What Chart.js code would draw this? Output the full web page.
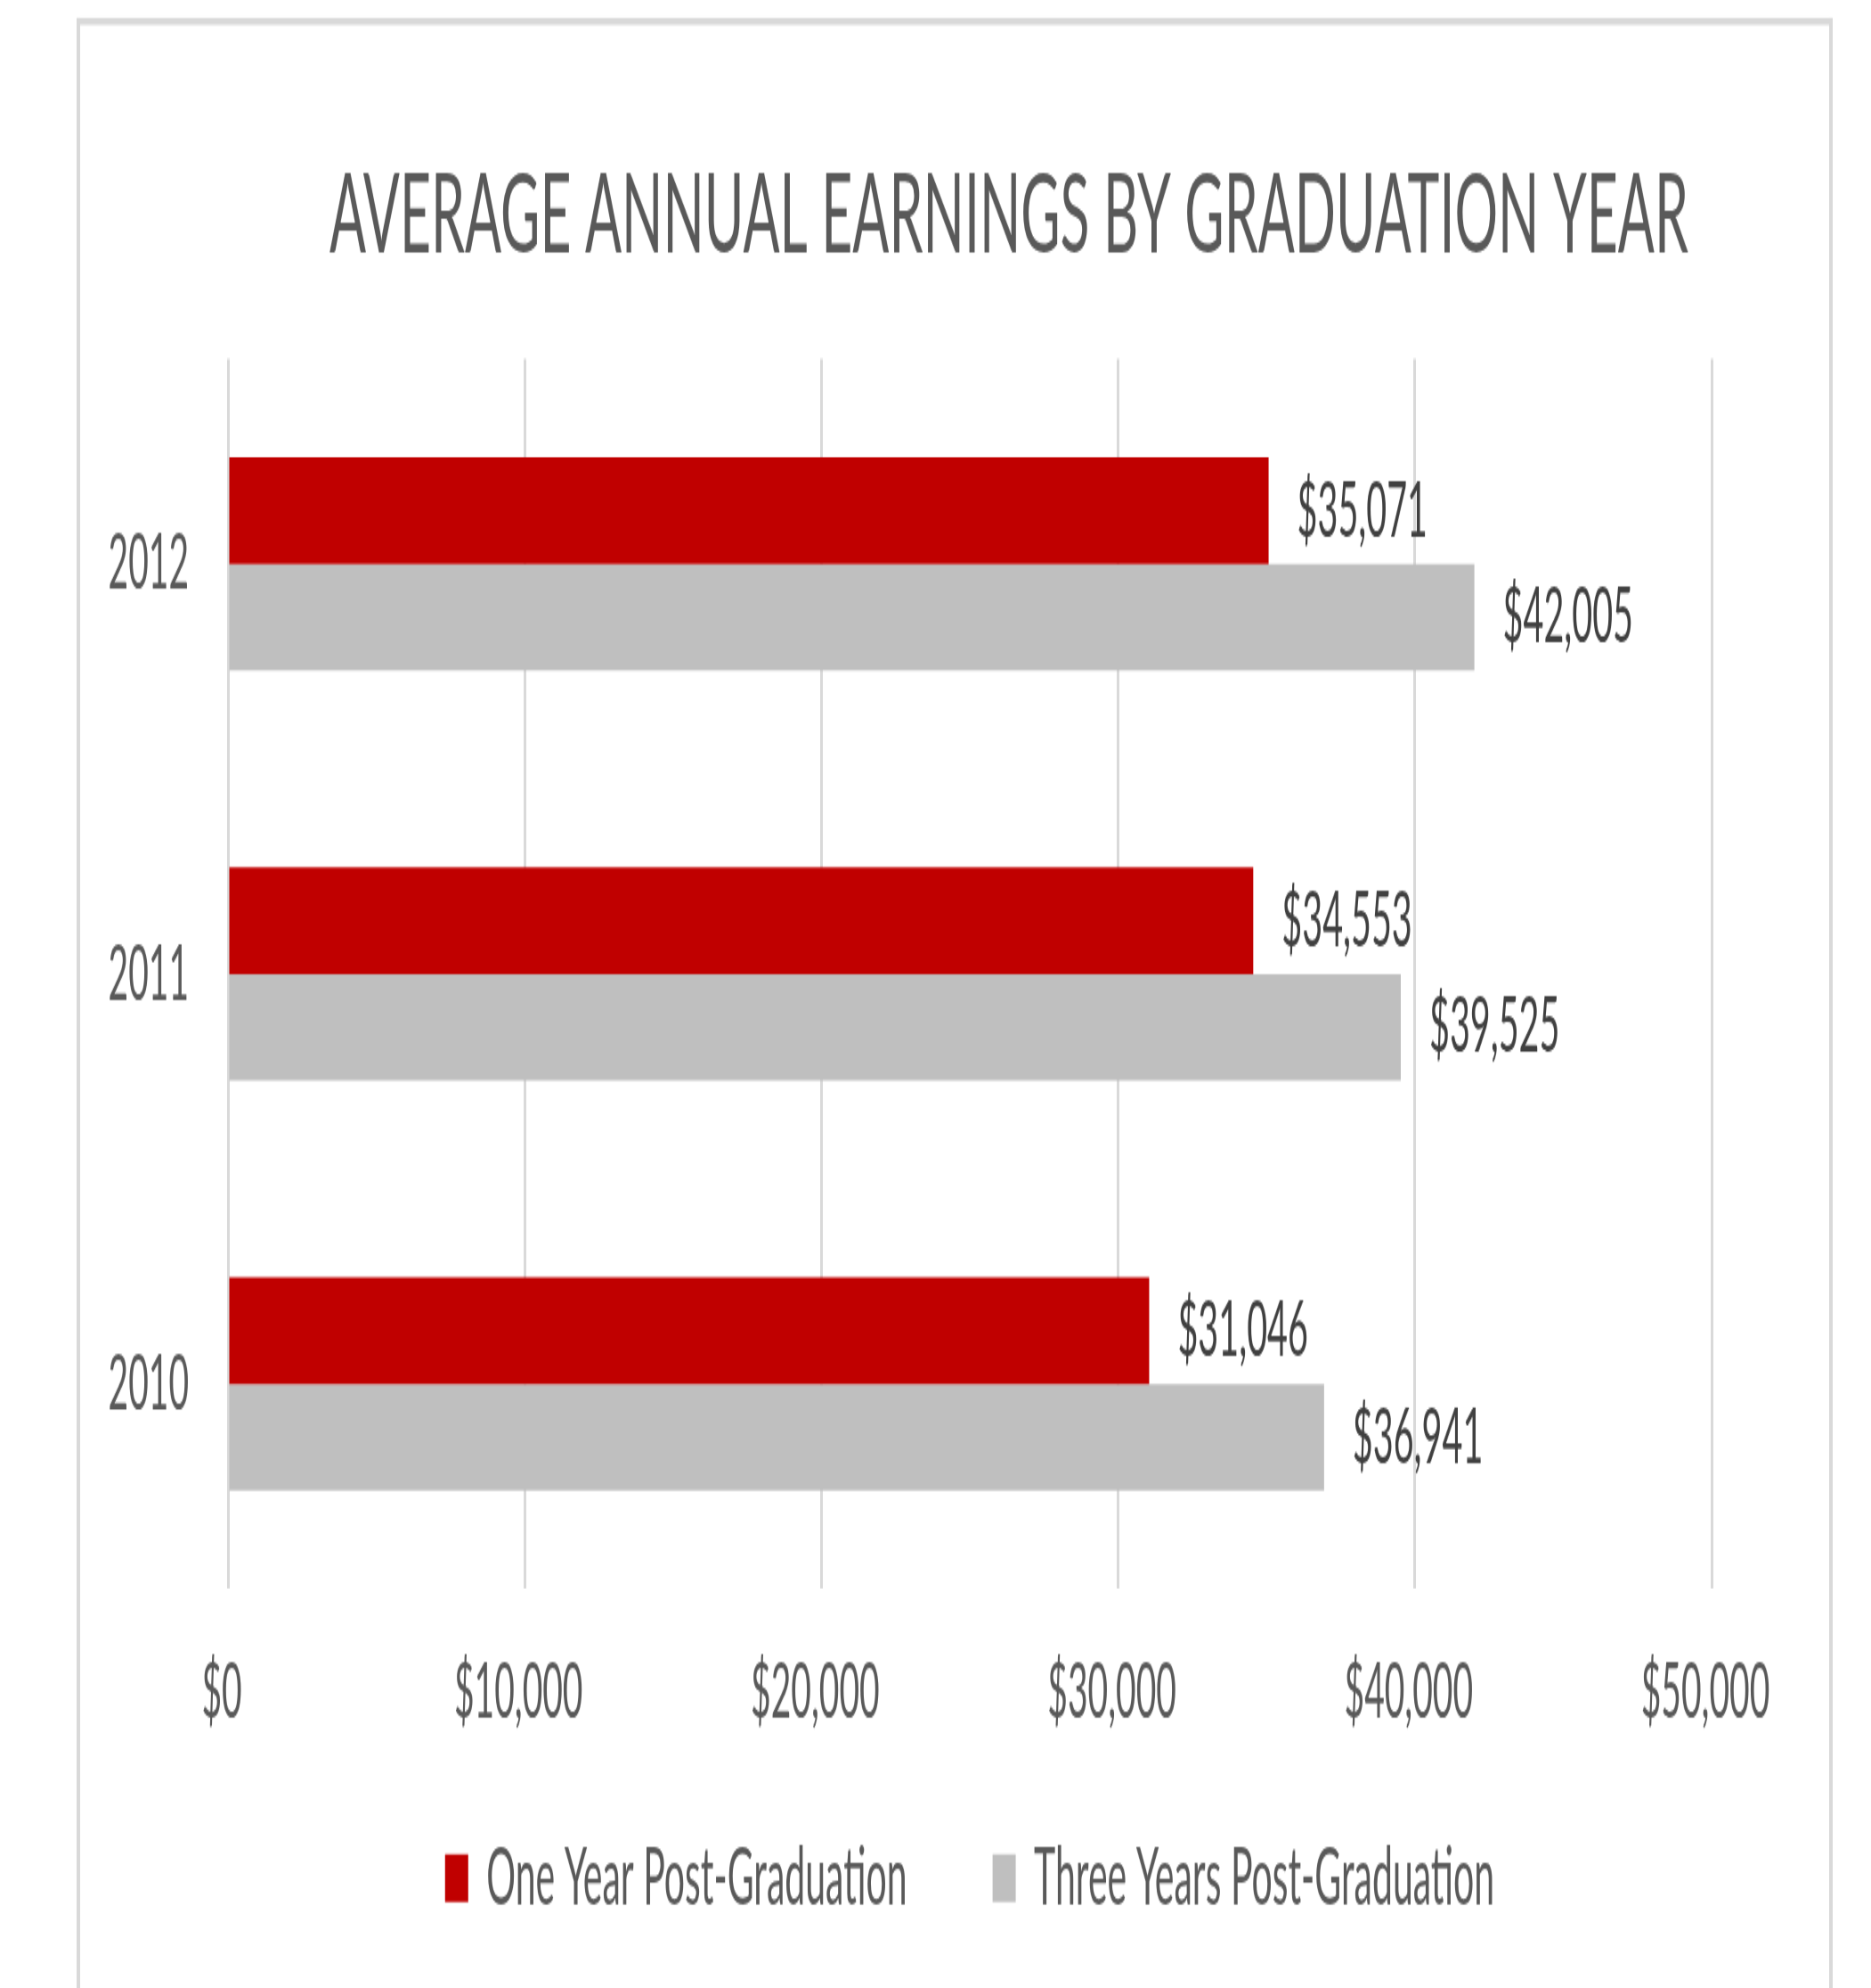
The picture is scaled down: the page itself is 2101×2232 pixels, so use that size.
<!DOCTYPE html>
<html>
<head>
<meta charset="utf-8">
<script src="https://cdn.jsdelivr.net/npm/chart.js@4.4.1/dist/chart.umd.min.js"></script>
<style>
html,body{margin:0;padding:0;background:#fff;}
#c{position:absolute;left:0;top:0;}
</style>
</head>
<body>
<canvas id="c" width="2101" height="1000" style="width:2101px;height:2232px;"></canvas>
<script>
// ---- data ----
const chartTitle = 'AVERAGE ANNUAL EARNINGS BY GRADUATION YEAR';
const categories = ['2012', '2011', '2010'];
const seriesNames = ['One Year Post-Graduation', 'Three Years Post-Graduation'];
const oneYearPostGrad = [35071, 34553, 31046];
const threeYearsPostGrad = [42005, 39525, 36941];
const xTickValues = [0, 10000, 20000, 30000, 40000, 50000];

// ---- styling ----
const S = 2232 / 1000; // vertical stretch of the canvas (text appears tall/condensed)
const FONT = 'Lato';
const fmt = v => '$' + Number(v).toLocaleString('en-US');

const framePlugin = {
  id: 'frame',
  beforeDraw(chart) {
    const ctx = chart.ctx;
    ctx.save();
    ctx.fillStyle = '#d9d9d9';
    ctx.fillRect(86, 20 / S, 4, chart.height);
    ctx.fillRect(2054, 20 / S, 4, chart.height);
    ctx.fillRect(86, 20 / S, 1972, 8 / S);
    ctx.restore();
  }
};

const titlePlugin = {
  id: 'customTitle',
  afterDraw(chart) {
    const ctx = chart.ctx;
    ctx.save();
    ctx.font = '57px ' + FONT;
    ctx.fillStyle = '#595959';
    ctx.textAlign = 'center';
    ctx.textBaseline = 'alphabetic';
    const w = ctx.measureText(chartTitle).width;
    ctx.translate(1133, 284 / S);
    ctx.scale(1526 / w, 1);
    ctx.fillText(chartTitle, 0, 0);
    ctx.restore();
  }
};

const valueLabelsPlugin = {
  id: 'valueLabels',
  afterDatasetsDraw(chart) {
    const ctx = chart.ctx;
    ctx.save();
    ctx.font = '39.5px ' + FONT;
    ctx.fillStyle = '#404040';
    ctx.textAlign = 'left';
    ctx.textBaseline = 'middle';
    chart.data.datasets.forEach((ds, i) => {
      chart.getDatasetMeta(i).data.forEach((bar, j) => {
        ctx.fillText(fmt(ds.data[j]), bar.x + 32, bar.y);
      });
    });
    ctx.restore();
  }
};

// move the legend row up (keeps the wide gap between the two items)
const legendShiftPlugin = {
  id: 'legendShift',
  afterLayout(chart) {
    const lg = chart.legend;
    if (lg) { lg.top -= 46.5; lg.bottom -= 46.5; }
  }
};

function draw() {
  new Chart(document.getElementById('c'), {
    type: 'bar',
    data: {
      labels: categories,
      datasets: [
        { label: seriesNames[0], data: oneYearPostGrad, backgroundColor: '#C00000', borderWidth: 0, categoryPercentage: 0.52, barPercentage: 1 },
        { label: seriesNames[1], data: threeYearsPostGrad, backgroundColor: '#BFBFBF', borderWidth: 0, categoryPercentage: 0.52, barPercentage: 1 }
      ]
    },
    options: {
      indexAxis: 'y',
      responsive: false,
      animation: false,
      devicePixelRatio: 1,
      layout: { padding: { top: 403 / S, left: 0, right: 179, bottom: -21.8 } },
      plugins: {
        title: { display: false },
        tooltip: { enabled: false },
        legend: {
          position: 'bottom',
          align: 'center',
          fullSize: false,
          labels: {
            font: { family: FONT, size: 41 },
            color: '#595959',
            boxWidth: 26,
            boxHeight: 24,
            padding: 96
          }
        }
      },
      scales: {
        x: {
          type: 'linear',
          min: 0,
          max: 50000,
          grid: { color: '#d9d9d9', lineWidth: 3, drawTicks: false },
          border: { display: false },
          ticks: {
            padding: 28.7,
            labelOffset: -7,
            font: { family: FONT, size: 39 },
            color: '#595959',
            maxRotation: 0,
            autoSkip: false,
            callback: v => fmt(v)
          },
          afterBuildTicks(scale) { scale.ticks = xTickValues.map(v => ({ value: v })); },
          afterFit(scale) { scale.height = 75.5; }
        },
        y: {
          grid: { display: false },
          border: { display: false },
          ticks: { padding: 36, font: { family: FONT, size: 39 }, color: '#595959' },
          afterFit(scale) { scale.width = 256; }
        }
      }
    },
    plugins: [framePlugin, titlePlugin, valueLabelsPlugin, legendShiftPlugin]
  });
}

if (document.fonts && document.fonts.load) {
  document.fonts.load('39px ' + FONT).then(draw, draw);
} else {
  draw();
}
</script>
</body>
</html>
